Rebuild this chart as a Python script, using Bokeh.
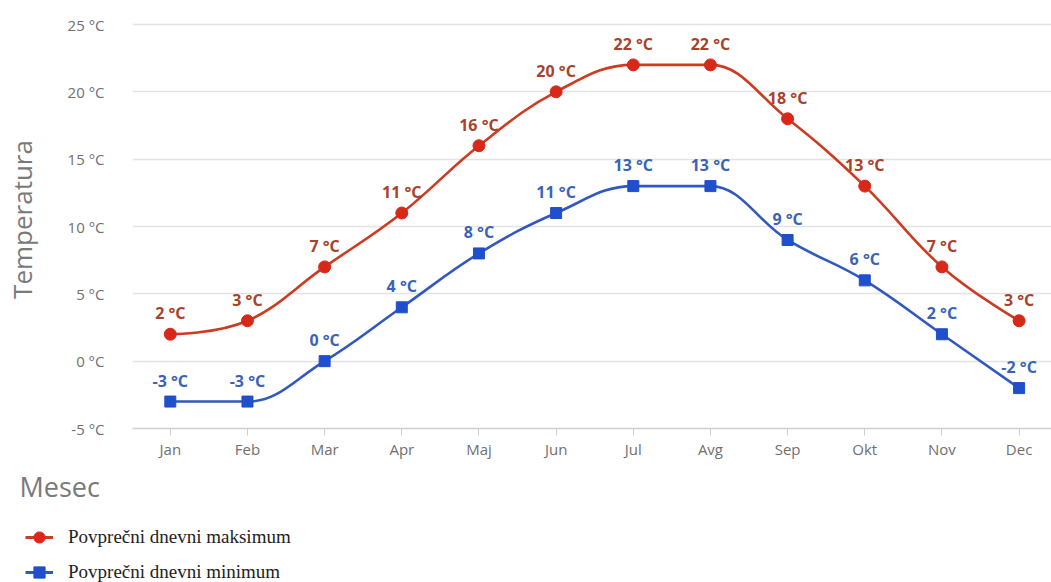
from bokeh.plotting import figure
from bokeh.layouts import column
from bokeh.models import (FixedTicker, PrintfTickFormatter, Label, Legend,
                          LegendItem, ColumnDataSource, Range1d)
from bokeh.core.properties import value
from bokeh.embed import file_html
from bokeh.resources import INLINE

months = ["Jan", "Feb", "Mar", "Apr", "Maj", "Jun", "Jul", "Avg", "Sep", "Okt", "Nov", "Dec"]
t_max = [2, 3, 7, 11, 16, 20, 22, 22, 18, 13, 7, 3]
t_min = [-3, -3, 0, 4, 8, 11, 13, 13, 9, 6, 2, -2]
y_ticks = [-5, 0, 5, 10, 15, 20, 25]

RED_LINE = "#cc3b22"
RED_MARK = "#d8281a"
RED_TEXT = "#a8422c"
BLUE_LINE = "#3158be"
BLUE_MARK = "#1f4fcc"
BLUE_TEXT = "#3a63b8"
FONT = "Open Sans"
W = 1051


def spline_segments(xs, ys, smoothing=1.5):
    """Cubic bezier segments between consecutive points (monotone-clamped spline)."""
    n = len(xs)
    left = [(xs[i], ys[i]) for i in range(n)]
    right = [(xs[i], ys[i]) for i in range(n)]
    denom = smoothing + 1
    for i in range(1, n - 1):
        px, py = xs[i - 1], ys[i - 1]
        x, y = xs[i], ys[i]
        nx, ny = xs[i + 1], ys[i + 1]
        lcx = (smoothing * x + px) / denom
        lcy = (smoothing * y + py) / denom
        rcx = (smoothing * x + nx) / denom
        rcy = (smoothing * y + ny) / denom
        if rcx != lcx:
            corr = ((rcy - lcy) * (rcx - x)) / (rcx - lcx) + y - rcy
            lcy += corr
            rcy += corr
        if lcy > py and lcy > y:
            lcy = max(py, y)
            rcy = 2 * y - lcy
        elif lcy < py and lcy < y:
            lcy = min(py, y)
            rcy = 2 * y - lcy
        if rcy > ny and rcy > y:
            rcy = max(ny, y)
            lcy = 2 * y - rcy
        elif rcy < ny and rcy < y:
            rcy = min(ny, y)
            lcy = 2 * y - rcy
        left[i] = (lcx, lcy)
        right[i] = (rcx, rcy)
    seg = dict(x0=[], y0=[], x1=[], y1=[], cx0=[], cy0=[], cx1=[], cy1=[])
    for i in range(1, n):
        seg["x0"].append(xs[i - 1]); seg["y0"].append(ys[i - 1])
        seg["x1"].append(xs[i]); seg["y1"].append(ys[i])
        seg["cx0"].append(right[i - 1][0]); seg["cy0"].append(right[i - 1][1])
        seg["cx1"].append(left[i][0]); seg["cy1"].append(left[i][1])
    return seg


xi = list(range(len(months)))

# ---- main chart ----
p = figure(width=W, height=465, output_backend="svg", toolbar_location=None,
           x_range=Range1d(-0.49, 11.42), y_range=Range1d(-5, 26.04),
           min_border_left=130, min_border_right=0, min_border_top=10,
           min_border_bottom=37)
p.frame_align = False
p.outline_line_color = None
p.background_fill_color = "white"
p.border_fill_color = "white"

p.xgrid.grid_line_color = None
p.ygrid.grid_line_color = "#e3e3e3"
p.ygrid.grid_line_width = 1.5
p.ygrid.ticker = FixedTicker(ticks=y_ticks)

p.yaxis.ticker = FixedTicker(ticks=y_ticks)
p.yaxis.formatter = PrintfTickFormatter(format="%d °C")
p.yaxis.axis_line_color = None
p.yaxis.major_tick_line_color = None
p.yaxis.minor_tick_line_color = None
p.yaxis.major_label_standoff = 22
p.yaxis.major_label_text_font = FONT
p.yaxis.major_label_text_font_size = "15px"
p.yaxis.major_label_text_color = "#707070"
p.yaxis.axis_label = "Temperatura"
p.yaxis.axis_label_text_font = FONT
p.yaxis.axis_label_text_font_size = "26px"
p.yaxis.axis_label_text_font_style = "normal"
p.yaxis.axis_label_text_color = "#7a7a7a"
p.yaxis.axis_label_standoff = 25

p.xaxis.ticker = FixedTicker(ticks=xi)
p.xaxis.major_label_overrides = {i: m for i, m in enumerate(months)}
p.xaxis.axis_line_color = "#cfcfcf"
p.xaxis.axis_line_width = 1.5
p.xaxis.major_tick_line_color = "#cfcfcf"
p.xaxis.major_tick_in = 0
p.xaxis.major_tick_out = 7
p.xaxis.minor_tick_line_color = None
p.xaxis.major_label_standoff = 3
p.xaxis.major_label_text_font = FONT
p.xaxis.major_label_text_font_size = "15px"
p.xaxis.major_label_text_color = "#707070"

for vals, col in ((t_max, RED_LINE), (t_min, BLUE_LINE)):
    src = ColumnDataSource(spline_segments(xi, vals))
    p.bezier(x0="x0", y0="y0", x1="x1", y1="y1", cx0="cx0", cy0="cy0",
             cx1="cx1", cy1="cy1", source=src, line_color=col, line_width=2.6)

p.scatter(xi, t_max, marker="circle", size=12, fill_color=RED_MARK, line_color=RED_MARK)
p.scatter(xi, t_min, marker="square", size=11, fill_color=BLUE_MARK, line_color=BLUE_MARK)

for vals, col in ((t_max, RED_TEXT), (t_min, BLUE_TEXT)):
    src = ColumnDataSource(dict(x=xi, y=vals, t=[f"{v} °C" for v in vals]))
    p.text(x="x", y="y", text="t", source=src, text_align="center",
           text_baseline="middle", y_offset=-21, text_font=value(FONT),
           text_font_size="16px", text_font_style="bold", text_color=col)

# ---- x title and legend strip (its ranges keep the series off-canvas) ----
q = figure(width=W, height=117, output_backend="svg", toolbar_location=None,
           x_range=Range1d(100, 101), y_range=Range1d(100, 101), x_axis_type=None,
           y_axis_type=None, min_border=0)
q.frame_align = False
q.outline_line_color = None
q.xgrid.grid_line_color = None
q.ygrid.grid_line_color = None

q.add_layout(Label(x=19, y=96, x_units="screen", y_units="screen", text="Mesec",
                   text_font=FONT, text_font_size="27px", text_color="#7a7a7a",
                   text_baseline="middle", text_align="left"))

lg_max_line = q.line(xi, t_max, line_color=RED_LINE, line_width=3)
lg_max_mark = q.scatter(xi, t_max, marker="circle", fill_color=RED_MARK, line_color=RED_MARK)
lg_min_line = q.line(xi, t_min, line_color=BLUE_LINE, line_width=3)
lg_min_mark = q.scatter(xi, t_min, marker="square", fill_color=BLUE_MARK, line_color=BLUE_MARK)

legend = Legend(items=[
    LegendItem(label="Povprečni dnevni maksimum", renderers=[lg_max_line, lg_max_mark]),
    LegendItem(label="Povprečni dnevni minimum", renderers=[lg_min_line, lg_min_mark]),
], location=(25, -5), orientation="vertical", background_fill_alpha=0,
    border_line_color=None, glyph_width=28, glyph_height=30, spacing=5,
    label_text_font="Liberation Serif", label_text_font_size="19px",
    label_text_color="#222222", label_standoff=15, padding=0, margin=0)
q.add_layout(legend, "center")

open("out.html", "w").write(file_html(column(p, q, spacing=0), INLINE))
